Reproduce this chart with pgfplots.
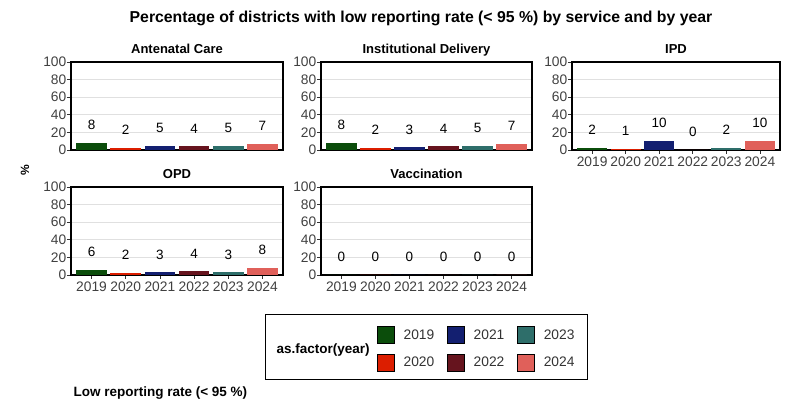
\documentclass[border=0pt]{standalone}
\usepackage{fontspec}
\setmainfont{Liberation Sans}
\usepackage{pgfplots}
\pgfplotsset{compat=1.18}

\definecolor{y2019}{HTML}{0B4D0B}
\definecolor{y2020}{HTML}{DC1E00}
\definecolor{y2021}{HTML}{131F70}
\definecolor{y2022}{HTML}{66141E}
\definecolor{y2023}{HTML}{2E6E6A}
\definecolor{y2024}{HTML}{E0605A}

% six bars of one panel, one value per year 2019..2024
\newcommand{\yearbars}[6]{%
  \addplot[fill=y2019, draw=none, bar shift=0pt, forget plot] coordinates {(0,#1)};
  \addplot[fill=y2020, draw=none, bar shift=0pt, forget plot] coordinates {(1,#2)};
  \addplot[fill=y2021, draw=none, bar shift=0pt, forget plot] coordinates {(2,#3)};
  \addplot[fill=y2022, draw=none, bar shift=0pt, forget plot] coordinates {(3,#4)};
  \addplot[fill=y2023, draw=none, bar shift=0pt, forget plot] coordinates {(4,#5)};
  \addplot[fill=y2024, draw=none, bar shift=0pt, forget plot] coordinates {(5,#6)};
}

\pgfplotsset{
  panel/.style={
    scale only axis, height=88pt, anchor=south west,
    ybar, bar width=0.9,
    xmin=-0.6, xmax=5.6, ymin=0, ymax=100,
    xtick={0,...,5}, xticklabels={2019,2020,2021,2022,2023,2024},
    ytick={0,20,...,100},
    ymajorgrids, grid style={black!12, line width=0.6pt},
    axis line style={line width=1.1pt},
    tick pos=left, tick align=outside, major tick length=4pt,
    tick style={black!80, line width=0.7pt},
    tick label style={font=\fontsize{13.8}{15}\selectfont, text=black!75},
    yticklabel style={inner xsep=0.5pt},
    xticklabel style={inner ysep=2.5pt},
    /pgf/number format/assume math mode=true,
    nodes near coords,
    every node near coord/.append style={anchor=center, yshift=18pt,
      font=\fontsize{13.5}{15}\selectfont, text=black},
    title style={font=\bfseries\fontsize{13}{14}\selectfont, text depth=3pt, yshift=-4pt},
  },
  notx/.style={xtick=\empty},
}

\begin{document}
\begin{tikzpicture}
\path[use as bounding box] (0,0) rectangle (787pt,404pt);

\node[font=\bfseries\fontsize{15.8}{18}\selectfont] at (421pt,386pt)
  {Percentage of districts with low reporting rate (< 95 \%) by service and by year};
\node[rotate=90, font=\bfseries\fontsize{12}{14}\selectfont] at (25pt,234pt) {\%};

\begin{axis}[panel, notx, at={(71pt,254pt)}, width=212pt, title={Antenatal Care}]
\yearbars{8}{2}{5}{4}{5}{7}
\end{axis}

\begin{axis}[panel, notx, at={(321pt,254pt)}, width=211pt, title={Institutional Delivery}]
\yearbars{8}{2}{3}{4}{5}{7}
\end{axis}

\begin{axis}[panel, at={(572pt,254pt)}, width=208pt, title={IPD}]
\yearbars{2}{1}{10}{0}{2}{10}
\end{axis}

\begin{axis}[panel, at={(71pt,129pt)}, width=212pt, title={OPD}]
\yearbars{6}{2}{3}{4}{3}{8}
\end{axis}

\begin{axis}[panel, at={(321pt,129pt)}, width=211pt, title={Vaccination},
  legend columns=3,
  legend image code/.code={\fill[#1] (0pt,-8.5pt) rectangle (17pt,8.5pt);},
  legend style={at={(axis description cs:0.2654,-0.58)}, anchor=north west,
    draw=none, fill=none, inner sep=0pt, row sep=10pt,
    font=\fontsize{13.8}{15}\selectfont, text=black!80,
    /tikz/every odd column/.append style={column sep=7pt},
    /tikz/every even column/.append style={column sep=11pt}},
]
\yearbars{0}{0}{0}{0}{0}{0}
\addlegendimage{fill=y2019}\addlegendentry{2019}
\addlegendimage{fill=y2021}\addlegendentry{2021}
\addlegendimage{fill=y2023}\addlegendentry{2023}
\addlegendimage{fill=y2020}\addlegendentry{2020}
\addlegendimage{fill=y2022}\addlegendentry{2022}
\addlegendimage{fill=y2024}\addlegendentry{2024}
\end{axis}

\draw[line width=1pt] (265pt,89pt) rectangle (587pt,24pt);
\node[anchor=west, font=\bfseries\fontsize{13.5}{15}\selectfont] at (273pt,54pt) {as.factor(year)};
\node[anchor=west, font=\bfseries\fontsize{13.5}{15}\selectfont] at (70pt,11pt) {Low reporting rate (< 95 \%)};
\end{tikzpicture}
\end{document}
